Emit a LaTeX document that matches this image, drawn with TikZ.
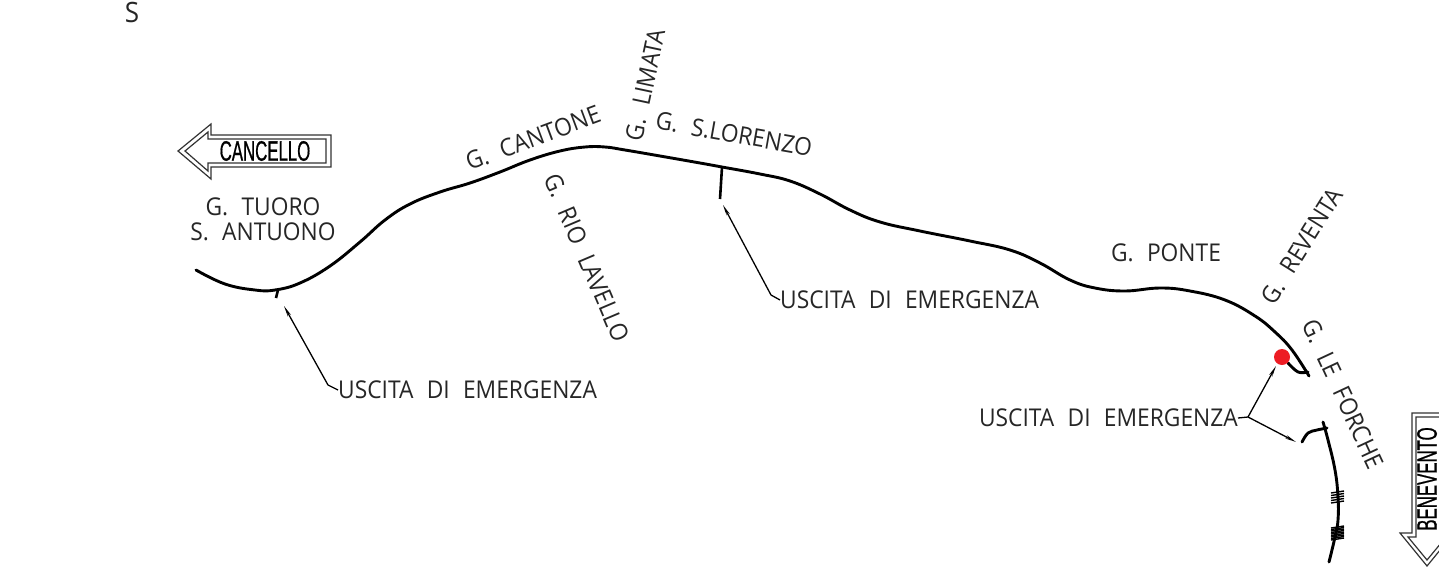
\documentclass[tikz,border=0pt]{standalone}
\usepackage{fontspec}
\setmainfont[WordSpace=2.25,FakeStretch=0.93]{Open Sans}
\newfontfamily\condfont[FakeBold=1]{Liberation Sans}
\usetikzlibrary{arrows.meta}
\definecolor{dotred}{RGB}{237,28,36}
\tikzset{
  x=1pt,y=-1pt,
  label text/.style={inner sep=0pt,font=\fontsize{24.5}{26}\selectfont,text=black!85},
  big label/.style={label text,font=\fontsize{28}{30}\selectfont},
  sign text/.style={inner sep=0pt,font=\condfont\fontsize{28}{30}\selectfont},
  road/.style={line width=2.9pt,line cap=round,line join=round},
  stub/.style={line width=2.6pt},
  leader/.style={line width=1.3pt},
  leader arrow/.style={line width=1.3pt,-{Stealth[length=11pt,width=3.5pt]}},
  sign/.style={line width=1.2pt,line join=miter,black!80},
}
\begin{document}
\begin{tikzpicture}
\path[use as bounding box,clip] (0,0) rectangle (1439,573);
\fill[white] (0,0) rectangle (1439,573);

% road
\draw[road] plot[smooth,tension=0.7] coordinates {(196,270)(225,284)(255,290)(275,290)(300,283)(330,266)(360,242)(385,220)(410,204)(440,192)(470,183)(500,172)(530,160)(560,151)(585,147)(605,147)(625,150)(660,156)(700,163)(722,167)(760,174)(790,181)(820,194)(850,210)(880,222)(920,231)(970,241)(1010,250)(1040,263)(1070,280)(1095,288)(1125,291)(1160,288)(1190,291)(1225,300)(1255,316)(1275,332)(1292,350)(1309,376)};
\draw[road] plot[smooth,tension=0.7] coordinates {(1323,422)(1328,440)(1335,470)(1338,497)(1338,520)(1335,537)(1329,562)};
\draw[road] plot[smooth,tension=0.6] coordinates {(1288,363)(1298,372)(1308,372)};
\draw[road] plot[smooth,tension=0.6] coordinates {(1302,442)(1308,433)(1317,430)(1327,428)};
% hatching on the road
\foreach \yy in {492,494.5,497,499.5,502,527,528.5,530,531.5,533,534.5,536,537.5,539}
  \draw[line width=1.4pt] (1331,\yy+1) -- (1344,\yy-1);
% stubs
\draw[stub] (278,290) -- (276,298);
\draw[stub] (722,167) -- (720,199);

% red point
\node[circle,fill=dotred,inner sep=0pt,minimum size=16pt] (dot) at (1282,357) {};

% labels
\node[big label] (s) at (132,12) {S};
\node[label text] (tuoro) at (263,207) {G. TUORO};
\node[label text] (antuono) at (263,232) {S. ANTUONO};
\node[label text,rotate=20.5] (cantone) at (533,138) {G. CANTONE};
\node[label text,rotate=78] (limata) at (645,85) {G. LIMATA};
\node[label text,rotate=-10] (lorenzo) at (734,134) {G. S.LORENZO};
\node[label text,rotate=-67] (lavello) at (587,258) {G. RIO LAVELLO};
\node[label text] (ponte) at (1166,253) {G. PONTE};
\node[label text,rotate=58] (reventa) at (1302,246) {G. REVENTA};
\node[label text,rotate=-65] (forche) at (1343,394) {G. LE FORCHE};
\node[label text,anchor=west] (u1) at (338,390) {USCITA DI EMERGENZA};
\node[label text,anchor=west] (u2) at (780,300) {USCITA DI EMERGENZA};
\node[label text,anchor=east] (u3) at (1238,418) {USCITA DI EMERGENZA};

% leaders
\coordinate (e1) at (284,306);
\coordinate (k1) at (328,385);
\coordinate (e2) at (723,205);
\coordinate (k2) at (771,295);
\coordinate (k3) at (1248,417);
\coordinate (e3) at (1276,366);
\coordinate (e4) at (1296,442);
\draw[leader arrow] (u1.west) -- (k1) -- (e1);
\draw[leader arrow] (u2.west) -- (k2) -- (e2);
\draw[leader] (u3.east) -- (k3);
\draw[leader arrow] (k3) -- (e3);
\draw[leader arrow] (k3) -- (e4);

% CANCELLO sign
\draw[sign] (178,151) -- (211,124) -- (211,135) -- (331,135) -- (331,167) -- (211,167) -- (211,179) -- cycle;
\draw[sign] (185,151) -- (208,132) -- (208,139) -- (326,139) -- (326,163) -- (208,163) -- (208,171) -- cycle;
\node[sign text] (cancello) at (265,151) {\scalebox{0.6}[1]{CANCELLO}};

% BENEVENTO sign
\draw[sign] (1445,413) -- (1412,413) -- (1412,533) -- (1400,533) -- (1427,566) -- (1454,533);
\draw[sign] (1445,417) -- (1416,417) -- (1416,537) -- (1408,537) -- (1427,560) -- (1446,537);
\node[sign text,rotate=90] (benevento) at (1427,479) {\scalebox{0.6}[1]{BENEVENTO}};
\end{tikzpicture}
\end{document}
